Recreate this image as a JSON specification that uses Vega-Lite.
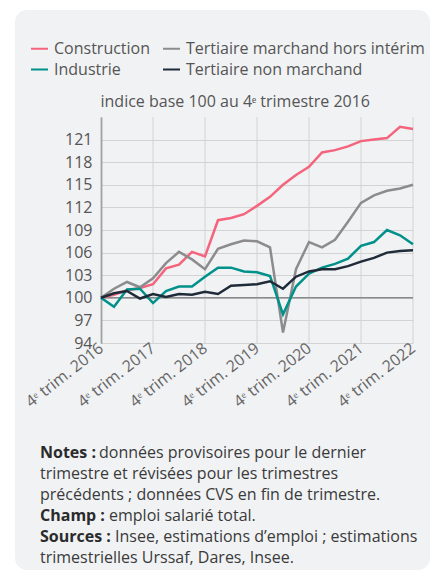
{
  "$schema": "https://vega.github.io/schema/vega-lite/v6.json",
  "width": 415,
  "height": 560,
  "autosize": "none",
  "padding": {"left": 15, "top": 10, "right": 3, "bottom": 10},
  "background": "#ffffff",
  "view": {"fill": "#f1f2f4", "cornerRadius": 12, "stroke": null},
  "config": {"font": "Open Sans"},
  "datasets": {
    "series": [
      {"trimestre": "2016-T4", "secteur": "Construction", "indice": 100},
      {"trimestre": "2017-T1", "secteur": "Construction", "indice": 100.4},
      {"trimestre": "2017-T2", "secteur": "Construction", "indice": 101.0},
      {"trimestre": "2017-T3", "secteur": "Construction", "indice": 101.3},
      {"trimestre": "2017-T4", "secteur": "Construction", "indice": 101.8},
      {"trimestre": "2018-T1", "secteur": "Construction", "indice": 103.9},
      {"trimestre": "2018-T2", "secteur": "Construction", "indice": 104.4},
      {"trimestre": "2018-T3", "secteur": "Construction", "indice": 106.1},
      {"trimestre": "2018-T4", "secteur": "Construction", "indice": 105.5},
      {"trimestre": "2019-T1", "secteur": "Construction", "indice": 110.3},
      {"trimestre": "2019-T2", "secteur": "Construction", "indice": 110.6},
      {"trimestre": "2019-T3", "secteur": "Construction", "indice": 111.1},
      {"trimestre": "2019-T4", "secteur": "Construction", "indice": 112.2},
      {"trimestre": "2020-T1", "secteur": "Construction", "indice": 113.4},
      {"trimestre": "2020-T2", "secteur": "Construction", "indice": 115.0},
      {"trimestre": "2020-T3", "secteur": "Construction", "indice": 116.3},
      {"trimestre": "2020-T4", "secteur": "Construction", "indice": 117.4},
      {"trimestre": "2021-T1", "secteur": "Construction", "indice": 119.3},
      {"trimestre": "2021-T2", "secteur": "Construction", "indice": 119.6},
      {"trimestre": "2021-T3", "secteur": "Construction", "indice": 120.1},
      {"trimestre": "2021-T4", "secteur": "Construction", "indice": 120.8},
      {"trimestre": "2022-T1", "secteur": "Construction", "indice": 121.0},
      {"trimestre": "2022-T2", "secteur": "Construction", "indice": 121.2},
      {"trimestre": "2022-T3", "secteur": "Construction", "indice": 122.7},
      {"trimestre": "2022-T4", "secteur": "Construction", "indice": 122.4},
      {"trimestre": "2016-T4", "secteur": "Tertiaire marchand hors intérim", "indice": 100},
      {"trimestre": "2017-T1", "secteur": "Tertiaire marchand hors intérim", "indice": 101.2},
      {"trimestre": "2017-T2", "secteur": "Tertiaire marchand hors intérim", "indice": 102.1},
      {"trimestre": "2017-T3", "secteur": "Tertiaire marchand hors intérim", "indice": 101.4},
      {"trimestre": "2017-T4", "secteur": "Tertiaire marchand hors intérim", "indice": 102.6},
      {"trimestre": "2018-T1", "secteur": "Tertiaire marchand hors intérim", "indice": 104.6},
      {"trimestre": "2018-T2", "secteur": "Tertiaire marchand hors intérim", "indice": 106.1},
      {"trimestre": "2018-T3", "secteur": "Tertiaire marchand hors intérim", "indice": 105.1},
      {"trimestre": "2018-T4", "secteur": "Tertiaire marchand hors intérim", "indice": 103.8},
      {"trimestre": "2019-T1", "secteur": "Tertiaire marchand hors intérim", "indice": 106.5},
      {"trimestre": "2019-T2", "secteur": "Tertiaire marchand hors intérim", "indice": 107.1},
      {"trimestre": "2019-T3", "secteur": "Tertiaire marchand hors intérim", "indice": 107.6},
      {"trimestre": "2019-T4", "secteur": "Tertiaire marchand hors intérim", "indice": 107.5},
      {"trimestre": "2020-T1", "secteur": "Tertiaire marchand hors intérim", "indice": 106.7},
      {"trimestre": "2020-T2", "secteur": "Tertiaire marchand hors intérim", "indice": 95.4},
      {"trimestre": "2020-T3", "secteur": "Tertiaire marchand hors intérim", "indice": 103.8},
      {"trimestre": "2020-T4", "secteur": "Tertiaire marchand hors intérim", "indice": 107.4},
      {"trimestre": "2021-T1", "secteur": "Tertiaire marchand hors intérim", "indice": 106.7},
      {"trimestre": "2021-T2", "secteur": "Tertiaire marchand hors intérim", "indice": 107.7},
      {"trimestre": "2021-T3", "secteur": "Tertiaire marchand hors intérim", "indice": 110.1},
      {"trimestre": "2021-T4", "secteur": "Tertiaire marchand hors intérim", "indice": 112.6},
      {"trimestre": "2022-T1", "secteur": "Tertiaire marchand hors intérim", "indice": 113.6},
      {"trimestre": "2022-T2", "secteur": "Tertiaire marchand hors intérim", "indice": 114.2},
      {"trimestre": "2022-T3", "secteur": "Tertiaire marchand hors intérim", "indice": 114.5},
      {"trimestre": "2022-T4", "secteur": "Tertiaire marchand hors intérim", "indice": 115.0},
      {"trimestre": "2016-T4", "secteur": "Industrie", "indice": 100},
      {"trimestre": "2017-T1", "secteur": "Industrie", "indice": 98.8},
      {"trimestre": "2017-T2", "secteur": "Industrie", "indice": 101.1},
      {"trimestre": "2017-T3", "secteur": "Industrie", "indice": 101.2},
      {"trimestre": "2017-T4", "secteur": "Industrie", "indice": 99.3},
      {"trimestre": "2018-T1", "secteur": "Industrie", "indice": 100.9},
      {"trimestre": "2018-T2", "secteur": "Industrie", "indice": 101.5},
      {"trimestre": "2018-T3", "secteur": "Industrie", "indice": 101.5},
      {"trimestre": "2018-T4", "secteur": "Industrie", "indice": 102.8},
      {"trimestre": "2019-T1", "secteur": "Industrie", "indice": 104.0},
      {"trimestre": "2019-T2", "secteur": "Industrie", "indice": 104.0},
      {"trimestre": "2019-T3", "secteur": "Industrie", "indice": 103.5},
      {"trimestre": "2019-T4", "secteur": "Industrie", "indice": 103.4},
      {"trimestre": "2020-T1", "secteur": "Industrie", "indice": 102.9},
      {"trimestre": "2020-T2", "secteur": "Industrie", "indice": 97.8},
      {"trimestre": "2020-T3", "secteur": "Industrie", "indice": 101.5},
      {"trimestre": "2020-T4", "secteur": "Industrie", "indice": 103.2},
      {"trimestre": "2021-T1", "secteur": "Industrie", "indice": 104.0},
      {"trimestre": "2021-T2", "secteur": "Industrie", "indice": 104.5},
      {"trimestre": "2021-T3", "secteur": "Industrie", "indice": 105.2},
      {"trimestre": "2021-T4", "secteur": "Industrie", "indice": 106.9},
      {"trimestre": "2022-T1", "secteur": "Industrie", "indice": 107.4},
      {"trimestre": "2022-T2", "secteur": "Industrie", "indice": 109.0},
      {"trimestre": "2022-T3", "secteur": "Industrie", "indice": 108.3},
      {"trimestre": "2022-T4", "secteur": "Industrie", "indice": 107.1},
      {"trimestre": "2016-T4", "secteur": "Tertiaire non marchand", "indice": 100},
      {"trimestre": "2017-T1", "secteur": "Tertiaire non marchand", "indice": 100.6},
      {"trimestre": "2017-T2", "secteur": "Tertiaire non marchand", "indice": 100.9},
      {"trimestre": "2017-T3", "secteur": "Tertiaire non marchand", "indice": 99.9},
      {"trimestre": "2017-T4", "secteur": "Tertiaire non marchand", "indice": 100.5},
      {"trimestre": "2018-T1", "secteur": "Tertiaire non marchand", "indice": 100.1},
      {"trimestre": "2018-T2", "secteur": "Tertiaire non marchand", "indice": 100.5},
      {"trimestre": "2018-T3", "secteur": "Tertiaire non marchand", "indice": 100.4},
      {"trimestre": "2018-T4", "secteur": "Tertiaire non marchand", "indice": 100.8},
      {"trimestre": "2019-T1", "secteur": "Tertiaire non marchand", "indice": 100.5},
      {"trimestre": "2019-T2", "secteur": "Tertiaire non marchand", "indice": 101.6},
      {"trimestre": "2019-T3", "secteur": "Tertiaire non marchand", "indice": 101.7},
      {"trimestre": "2019-T4", "secteur": "Tertiaire non marchand", "indice": 101.8},
      {"trimestre": "2020-T1", "secteur": "Tertiaire non marchand", "indice": 102.2},
      {"trimestre": "2020-T2", "secteur": "Tertiaire non marchand", "indice": 101.2},
      {"trimestre": "2020-T3", "secteur": "Tertiaire non marchand", "indice": 102.8},
      {"trimestre": "2020-T4", "secteur": "Tertiaire non marchand", "indice": 103.5},
      {"trimestre": "2021-T1", "secteur": "Tertiaire non marchand", "indice": 103.8},
      {"trimestre": "2021-T2", "secteur": "Tertiaire non marchand", "indice": 103.8},
      {"trimestre": "2021-T3", "secteur": "Tertiaire non marchand", "indice": 104.2},
      {"trimestre": "2021-T4", "secteur": "Tertiaire non marchand", "indice": 104.8},
      {"trimestre": "2022-T1", "secteur": "Tertiaire non marchand", "indice": 105.3},
      {"trimestre": "2022-T2", "secteur": "Tertiaire non marchand", "indice": 106.0},
      {"trimestre": "2022-T3", "secteur": "Tertiaire non marchand", "indice": 106.2},
      {"trimestre": "2022-T4", "secteur": "Tertiaire non marchand", "indice": 106.3}
    ],
    "notes": [
      {"ligne": 1, "gras": "Notes :", "texte": "données provisoires pour le dernier"},
      {"ligne": 2, "gras": "", "texte": "trimestre et révisées pour les trimestres"},
      {"ligne": 3, "gras": "", "texte": "précédents ; données CVS en fin de trimestre."},
      {"ligne": 4, "gras": "Champ :", "texte": "emploi salarié total."},
      {"ligne": 5, "gras": "Sources :", "texte": "Insee, estimations d’emploi ; estimations"},
      {"ligne": 6, "gras": "", "texte": "trimestrielles Urssaf, Dares, Insee."}
    ]
  },
  "layer": [
    {
      "data": {"name": "series"},
      "layer": [
        {
          "transform": [{"filter": "datum.secteur === 'Construction' && indexof(datum.trimestre, 'T4') >= 0"}],
          "mark": {"type": "rule", "color": "#d3d3d3", "strokeWidth": 1},
          "encoding": {
            "x": {"field": "trimestre", "type": "ordinal"},
            "y": {"datum": 94, "type": "quantitative"},
            "y2": {"datum": 124}
          }
        },
        {
          "transform": [{"filter": "datum.secteur === 'Construction'"}],
          "mark": {"type": "line", "color": "#8a8a8a", "strokeWidth": 1.5},
          "encoding": {
            "x": {"field": "trimestre", "type": "ordinal"},
            "y": {"datum": 100, "type": "quantitative"}
          }
        },
        {
          "mark": {"type": "line", "strokeWidth": 2.5},
          "encoding": {
            "x": {
              "field": "trimestre",
              "type": "ordinal",
              "scale": {"type": "point", "range": [86, 398], "padding": 0},
              "axis": {
                "orient": "bottom",
                "offset": -227,
                "values": ["2016-T4", "2017-T4", "2018-T4", "2019-T4", "2020-T4", "2021-T4", "2022-T4"],
                "labelExpr": "'4ᵉ trim. ' + slice(datum.value, 0, 4)",
                "labelAngle": -38,
                "grid": false,
                "domain": false,
                "ticks": false,
                "tickSize": 0,
                "labelPadding": 3,
                "labelFontSize": 16,
                "labelColor": "#666666",
                "labelOverlap": false,
                "labelBound": false,
                "labelFlush": false,
                "title": null
              }
            },
            "y": {
              "field": "indice",
              "type": "quantitative",
              "scale": {"domain": [94, 124], "range": [333, 107], "nice": false, "zero": false},
              "axis": {
                "orient": "left",
                "offset": -86,
                "values": [94, 97, 100, 103, 106, 109, 112, 115, 118, 121],
                "grid": true,
                "gridColor": "#d3d3d3",
                "gridWidth": 1,
                "domainColor": "#6e6e6e",
                "domainWidth": 1.5,
                "ticks": false,
                "tickSize": 0,
                "labelPadding": 9,
                "labelFontSize": 16,
                "labelColor": "#555555",
                "title": "indice base 100 au 4ᵉ trimestre 2016",
                "titleAngle": 0,
                "titleAlign": "left",
                "titleBaseline": "alphabetic",
                "titleX": -1,
                "titleY": 96,
                "titleFontSize": 16,
                "titleFontWeight": "normal",
                "titleColor": "#555555"
              }
            },
            "color": {
              "field": "secteur",
              "type": "nominal",
              "scale": {
                "domain": ["Construction", "Industrie", "Tertiaire marchand hors intérim", "Tertiaire non marchand"],
                "range": ["#f4647d", "#00918a", "#8c8c8c", "#1f2b38"]
              },
              "legend": {
                "orient": "none",
                "legendX": 15,
                "legendY": 29,
                "columns": 2,
                "title": null,
                "symbolType": "stroke",
                "symbolSize": 289,
                "symbolStrokeWidth": 2,
                "labelFontSize": 16,
                "labelColor": "#555555",
                "labelOffset": 5,
                "labelLimit": 400,
                "columnPadding": 8,
                "rowPadding": 3,
                "padding": 0
              }
            }
          }
        }
      ]
    },
    {
      "data": {"name": "notes"},
      "encoding": {
        "y": {
          "field": "ligne",
          "type": "quantitative",
          "scale": {"domain": [1, 6], "range": [447.5, 552.5], "nice": false, "zero": false},
          "axis": null
        }
      },
      "layer": [
        {
          "transform": [{"filter": "datum.gras != ''"}],
          "mark": {"type": "text", "align": "left", "baseline": "alphabetic", "fontWeight": "bold", "fontSize": 16, "color": "#2b2b2b", "x": 25},
          "encoding": {"text": {"field": "gras"}}
        },
        {
          "transform": [{"filter": "datum.gras == ''"}],
          "mark": {"type": "text", "align": "left", "baseline": "alphabetic", "fontSize": 16, "color": "#3a3a3a", "x": 25},
          "encoding": {"text": {"field": "texte"}}
        },
        {
          "transform": [{"filter": "datum.ligne == 1"}],
          "mark": {"type": "text", "align": "left", "baseline": "alphabetic", "fontSize": 16, "color": "#3a3a3a", "x": 25, "dx": 59},
          "encoding": {"text": {"field": "texte"}}
        },
        {
          "transform": [{"filter": "datum.ligne == 4"}],
          "mark": {"type": "text", "align": "left", "baseline": "alphabetic", "fontSize": 16, "color": "#3a3a3a", "x": 25, "dx": 69},
          "encoding": {"text": {"field": "texte"}}
        },
        {
          "transform": [{"filter": "datum.ligne == 5"}],
          "mark": {"type": "text", "align": "left", "baseline": "alphabetic", "fontSize": 16, "color": "#3a3a3a", "x": 25, "dx": 75},
          "encoding": {"text": {"field": "texte"}}
        }
      ]
    }
  ],
  "resolve": {"scale": {"y": "independent", "x": "independent"}}
}
